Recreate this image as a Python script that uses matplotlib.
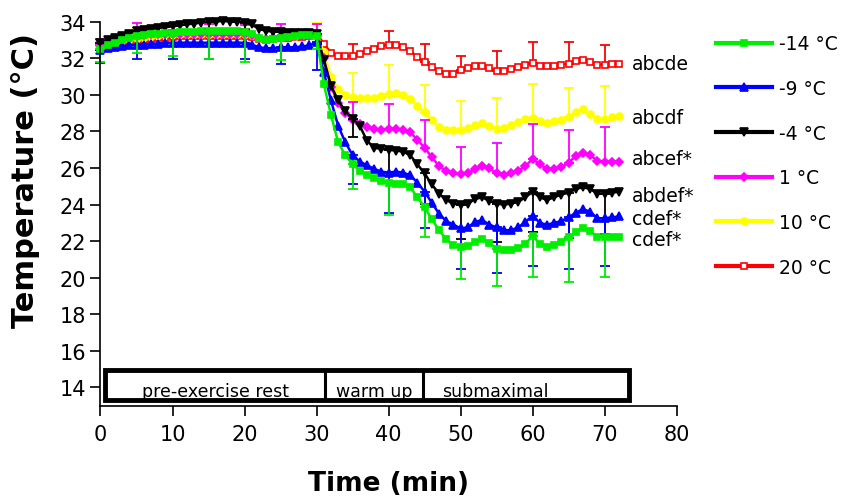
import numpy as np
import matplotlib
matplotlib.use("Agg")
import matplotlib.pyplot as plt
from matplotlib.lines import Line2D
from matplotlib.patches import Rectangle

plt.rcParams["font.family"] = ["DejaVu Sans"]

# time in minutes, one sample per minute
minutes = list(range(0, 73))
err_minutes = list(range(0, 71, 5))

t_m14 = [32.5, 32.7, 32.85, 33.0, 33.1, 33.2, 33.25, 33.3, 33.35, 33.4,
         33.4, 33.45, 33.45, 33.45, 33.5, 33.5, 33.5, 33.5, 33.5, 33.5,
         33.45, 33.3, 33.1, 33.0, 33.05, 33.1, 33.15, 33.2, 33.25, 33.25,
         33.2, 30.6, 28.9, 27.4, 26.7, 26.2, 25.85, 25.6, 25.45, 25.3,
         25.2, 25.15, 25.1, 24.95, 24.4, 23.85, 23.2, 22.6, 22.1, 21.8,
         21.7, 21.75, 21.95, 22.1, 21.9, 21.55, 21.5, 21.5, 21.6, 21.85,
         22.3, 21.85, 21.7, 21.8, 21.95, 22.2, 22.5, 22.7, 22.55, 22.25,
         22.2, 22.25, 22.25]
t_m9 = [32.45, 32.55, 32.6, 32.65, 32.7, 32.75, 32.75, 32.8, 32.8, 32.85,
        32.85, 32.85, 32.85, 32.85, 32.85, 32.85, 32.85, 32.85, 32.85, 32.85,
        32.85, 32.75, 32.6, 32.55, 32.55, 32.6, 32.6, 32.6, 32.65, 32.7,
        32.9, 31.25, 29.7, 28.3, 27.4, 26.7, 26.35, 26.15, 25.95, 25.8,
        25.75, 25.8, 25.75, 25.6, 25.2, 24.7, 24.1, 23.5, 23.1, 22.9,
        22.7, 22.75, 23.05, 23.15, 22.9, 22.75, 22.6, 22.6, 22.75, 23.05,
        23.4, 23.0, 22.9, 23.0, 23.1, 23.3, 23.55, 23.75, 23.6, 23.25,
        23.25, 23.3, 23.35]
t_m4 = [32.85, 33.0, 33.1, 33.2, 33.35, 33.5, 33.55, 33.6, 33.65, 33.7,
        33.75, 33.8, 33.85, 33.9, 33.95, 34.0, 34.0, 34.05, 34.0, 34.0,
        33.95, 33.85, 33.6, 33.5, 33.45, 33.45, 33.4, 33.4, 33.4, 33.4,
        33.3, 31.9, 30.5, 29.7, 29.1, 28.7, 28.3, 27.5, 27.1, 27.05,
        27.0, 26.95, 26.9, 26.7, 26.2, 25.7, 25.1, 24.6, 24.25, 24.05,
        24.0, 24.05, 24.3, 24.4, 24.2, 24.05, 24.0, 24.05, 24.15, 24.4,
        24.7, 24.4, 24.25, 24.4, 24.55, 24.65, 24.85, 24.95, 24.85, 24.6,
        24.6, 24.65, 24.7]
t_1 = [32.7, 32.85, 32.95, 33.05, 33.1, 33.2, 33.25, 33.3, 33.3, 33.35,
       33.35, 33.35, 33.35, 33.35, 33.35, 33.35, 33.35, 33.35, 33.35, 33.35,
       33.3, 33.25, 33.1, 33.05, 33.1, 33.2, 33.2, 33.2, 33.2, 33.2,
       33.2, 32.0, 30.45, 29.55, 29.0, 28.65, 28.4, 28.25, 28.15, 28.1,
       28.15, 28.15, 28.1, 27.95, 27.55, 27.1, 26.6, 26.1, 25.85, 25.7,
       25.65, 25.7, 25.95, 26.1, 26.0, 25.7, 25.6, 25.7, 25.85, 26.1,
       26.5, 26.2, 25.95, 25.95, 26.05, 26.3, 26.65, 26.8, 26.7, 26.4,
       26.35, 26.35, 26.35]
t_10 = [32.6, 32.8, 32.9, 33.0, 33.05, 33.1, 33.15, 33.2, 33.25, 33.3,
        33.3, 33.3, 33.3, 33.35, 33.35, 33.35, 33.35, 33.35, 33.35, 33.3,
        33.3, 33.25, 33.1, 33.05, 33.1, 33.15, 33.2, 33.2, 33.25, 33.25,
        33.3, 32.35, 31.0, 30.3, 30.0, 29.9, 29.85, 29.8, 29.85, 29.95,
        30.05, 30.1, 30.0, 29.75, 29.4, 29.05, 28.6, 28.25, 28.1, 28.05,
        28.1, 28.2, 28.35, 28.45, 28.3, 28.15, 28.2, 28.35, 28.5, 28.7,
        28.75, 28.55, 28.45, 28.55, 28.65, 28.8, 29.05, 29.2, 28.95, 28.7,
        28.7, 28.8, 28.85]
t_20 = [32.6, 32.7, 32.8, 32.85, 32.9, 32.95, 33.0, 33.05, 33.1, 33.1,
        33.15, 33.2, 33.2, 33.2, 33.2, 33.2, 33.2, 33.2, 33.2, 33.2,
        33.2, 33.15, 33.05, 33.0, 33.05, 33.1, 33.1, 33.15, 33.15, 33.2,
        33.35, 32.8, 32.3, 32.15, 32.1, 32.15, 32.25, 32.4, 32.5, 32.65,
        32.75, 32.7, 32.6, 32.4, 32.05, 31.8, 31.5, 31.3, 31.15, 31.15,
        31.35, 31.45, 31.55, 31.55, 31.45, 31.3, 31.3, 31.4, 31.5, 31.65,
        31.75, 31.6, 31.55, 31.6, 31.65, 31.7, 31.85, 31.9, 31.8, 31.65,
        31.65, 31.7, 31.7]

# error bars every 5 min (one-sided)
e_m14 = [0.72, 0.9, 1.3, 1.55, 1.65, 1.2, 0.7, 1.35, 1.75, 1.6, 1.75, 2.0, 2.25, 2.45, 2.15]
e_m9 = [0.7, 0.8, 0.9, 0.9, 0.9, 0.9, 1.55, 1.6, 2.2, 2.0, 2.25, 2.5, 2.75, 2.85, 2.6]
e_m4 = [0.4, 0.4, 0.4, 0.4, 0.4, 0.4, 0.5, 1.0, 1.2, 1.65, 1.9, 2.1, 2.2, 2.5, 2.2]
e_1 = [0.35, 0.73, 0.5, 0.5, 0.5, 0.65, 0.7, 0.95, 1.35, 1.5, 1.5, 1.65, 1.9, 1.75, 1.9]
e_10 = [0.3, 0.5, 0.5, 0.5, 0.5, 0.5, 0.65, 1.3, 1.6, 1.5, 1.55, 1.65, 1.85, 1.6, 1.8]
e_20 = [0.3, 0.7, 0.4, 0.4, 0.4, 0.4, 0.5, 0.65, 0.75, 1.0, 0.75, 1.1, 1.15, 1.2, 1.1]

labels = ["-14 \u00b0C", "-9 \u00b0C", "-4 \u00b0C", "1 \u00b0C", "10 \u00b0C", "20 \u00b0C"]
sig_text = ["abcde", "abcdf", "abcef*", "abdef*", "cdef*", "cdef*"]
sig_y = [31.74, 28.78, 26.5, 24.5, 23.25, 22.1]

phases = ["pre-exercise rest", "warm up", "submaximal"]
phase_edges = [0.6, 31.2, 44.8, 73.4]
phase_text_x = [15.9, 38.0, 54.8]

series = [
    # values, errors, colour, marker, ms, face, error direction
    (t_20, e_20, "#ff0000", "s", 5, "white", 1),
    (t_10, e_10, "#ffff00", "o", 5, "#ffff00", 1),
    (t_1, e_1, "#ff00ff", "D", 4, "#ff00ff", 1),
    (t_m4, e_m4, "#000000", "v", 5.5, "#000000", -1),
    (t_m9, e_m9, "#0000ff", "^", 5.5, "#0000ff", -1),
    (t_m14, e_m14, "#00ee00", "s", 4.5, "#00ee00", -1),
]
legend_order = [5, 4, 3, 2, 1, 0]

fig = plt.figure(figsize=(8.41, 5.02), dpi=100)
ax = fig.add_axes([0.1195, 0.1898, 0.6851, 0.765])

x = np.array(minutes)
xe = np.array(err_minutes)
for vals, errs, col, mk, ms, fc, sgn in series:
    y = np.array(vals)
    ye = y[xe]
    e = np.array(errs)
    z = np.zeros_like(e)
    yerr = [z, e] if sgn > 0 else [e, z]
    ax.errorbar(xe, ye, yerr=yerr, fmt="none", ecolor=col, elinewidth=1.3,
                capsize=3.5, capthick=1.3, clip_on=False)
    ax.plot(x, y, color=col, lw=1.8, marker=mk, ms=ms, mfc=fc, mec=col,
            mew=1.2, clip_on=False)

for txt, yy in zip(sig_text, sig_y):
    ax.text(73.8, yy, txt, fontsize=13.5, va="center", ha="left")

# phase box
box = Rectangle((phase_edges[0], 13.33), phase_edges[-1] - phase_edges[0], 14.94 - 13.33,
                fill=False, ec="black", lw=3.5, clip_on=False, zorder=5)
ax.add_patch(box)
for xd in phase_edges[1:-1]:
    ax.plot([xd, xd], [13.33, 14.94], color="black", lw=2.2, zorder=5)
for name, xc in zip(phases, phase_text_x):
    ax.text(xc, 13.55, name, fontsize=12.5, ha="center", va="baseline")

ax.set_xlim(0, 80)
ax.set_ylim(13.0, 34)
ax.set_xticks(range(0, 81, 10))
ax.set_yticks(range(14, 35, 2))
ax.tick_params(labelsize=15, length=7, width=1.2, direction="out")
ax.tick_params(axis="x", pad=6)
for s in ["top", "right"]:
    ax.spines[s].set_visible(False)
for s in ["left", "bottom"]:
    ax.spines[s].set_linewidth(1.2)

ax.set_xlabel("Time (min)", fontsize=19, fontweight="bold")
ax.xaxis.set_label_coords(0.5, -0.167)
ax.set_ylabel("Temperature (\u00b0C)", fontsize=22, fontweight="bold")
ax.yaxis.set_label_coords(-0.105, 0.59)

handles = []
for i in legend_order:
    vals, errs, col, mk, ms, fc, sgn = series[i]
    handles.append(Line2D([], [], color=col, lw=3, marker=mk, ms=ms, mfc=fc, mec=col, mew=1.2))
fig.legend(handles, labels, loc="upper left", bbox_to_anchor=(0.851, 0.93),
           frameon=False, fontsize=13.5, handlelength=3.0, handletextpad=0.4,
           labelspacing=1.37, numpoints=1, borderpad=0, borderaxespad=0)

fig.savefig("out.png", dpi=100)
